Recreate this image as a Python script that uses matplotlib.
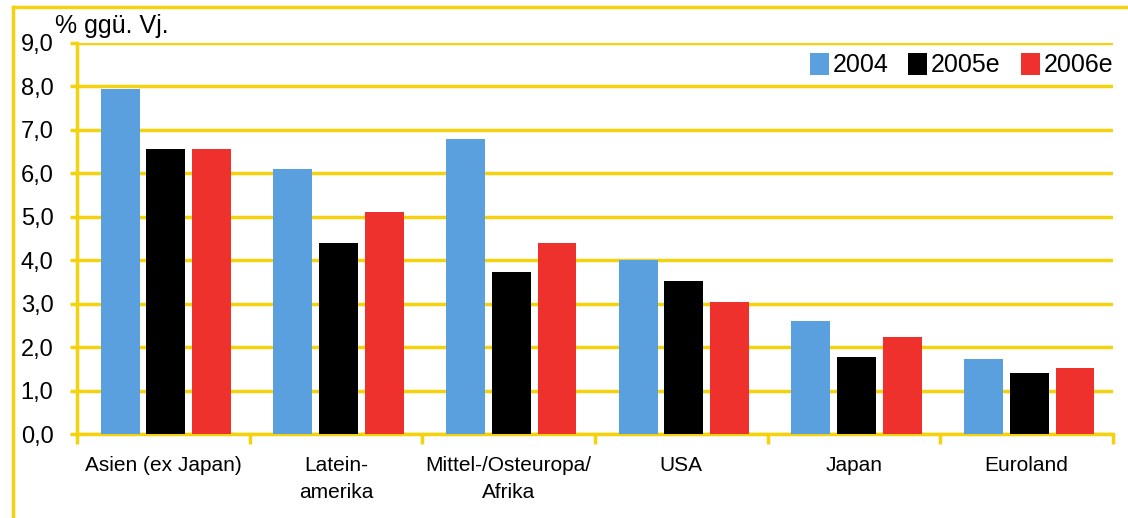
import matplotlib.pyplot as plt
from matplotlib.lines import Line2D
import numpy as np

plt.rcParams["font.family"] = ["Liberation Sans", "DejaVu Sans"]

# Data
categories = ["Asien (ex Japan)", "Latein-\namerika", "Mittel-/Osteuropa/\nAfrika",
              "USA", "Japan", "Euroland"]
series_labels = ["2004", "2005e", "2006e"]
vals_2004 = [7.95, 6.1, 6.8, 4.0, 2.6, 1.72]
vals_2005 = [6.55, 4.4, 3.72, 3.52, 1.77, 1.41]
vals_2006 = [6.55, 5.12, 4.4, 3.04, 2.23, 1.52]
yticks = [0, 1, 2, 3, 4, 5, 6, 7, 8, 9]

yellow = "#F5D20E"
colors = ["#5A9FDE", "#000000", "#EE312C"]
lw = 2.5

fig = plt.figure(figsize=(11.28, 5.18), dpi=100)
ax = fig.add_axes([77 / 1128, 1 - 434 / 518, (1113 - 77) / 1128, (434 - 43) / 518])

x = np.arange(len(categories))
bar_width = 0.225
step = 0.265
for i, (vals, lab) in enumerate(zip([vals_2004, vals_2005, vals_2006], series_labels)):
    ax.bar(x + 0.015 + (i - 1) * step, vals, bar_width, color=colors[i], label=lab, zorder=3)

ax.set_xlim(-0.5, len(categories) - 0.5)
ax.set_ylim(0, 9)
ax.set_yticks(yticks)
ax.set_yticklabels(["{:.1f}".format(v).replace(".", ",") for v in yticks], fontsize=17)
ax.yaxis.grid(True, color=yellow, linewidth=lw, zorder=0)
ax.set_axisbelow(True)
ax.tick_params(axis="y", length=5, width=lw, color=yellow, pad=12)

# category labels at centres, tick marks at boundaries
ax.set_xticks(x)
ax.set_xticklabels(categories, fontsize=15, linespacing=1.55)
ax.set_xticks(np.arange(-0.5, len(categories)), minor=True)
ax.tick_params(axis="x", which="major", length=0, pad=16)
ax.tick_params(axis="x", which="minor", length=7, width=lw, color=yellow)

for s in ["top", "right"]:
    ax.spines[s].set_visible(False)
for s in ["left", "bottom"]:
    ax.spines[s].set_color(yellow)
    ax.spines[s].set_linewidth(lw)

ax.legend(loc="center right", bbox_to_anchor=(1.0, 0.944), ncol=3, frameon=False,
          fontsize=18, handlelength=0.76, handleheight=1.0, handletextpad=0.15,
          columnspacing=0.8, borderpad=0, borderaxespad=0)

fig.text(55 / 1128, 1 - 26 / 518, "% ggü. Vj.", fontsize=18, va="center", ha="left")

# yellow frame on left and top
fig.add_artist(Line2D([13 / 1128, 13 / 1128], [0, 1 - 7 / 518], color=yellow, linewidth=lw))
fig.add_artist(Line2D([13 / 1128, 1], [1 - 7 / 518, 1 - 7 / 518], color=yellow, linewidth=lw))

fig.savefig("out.png", dpi=100)
